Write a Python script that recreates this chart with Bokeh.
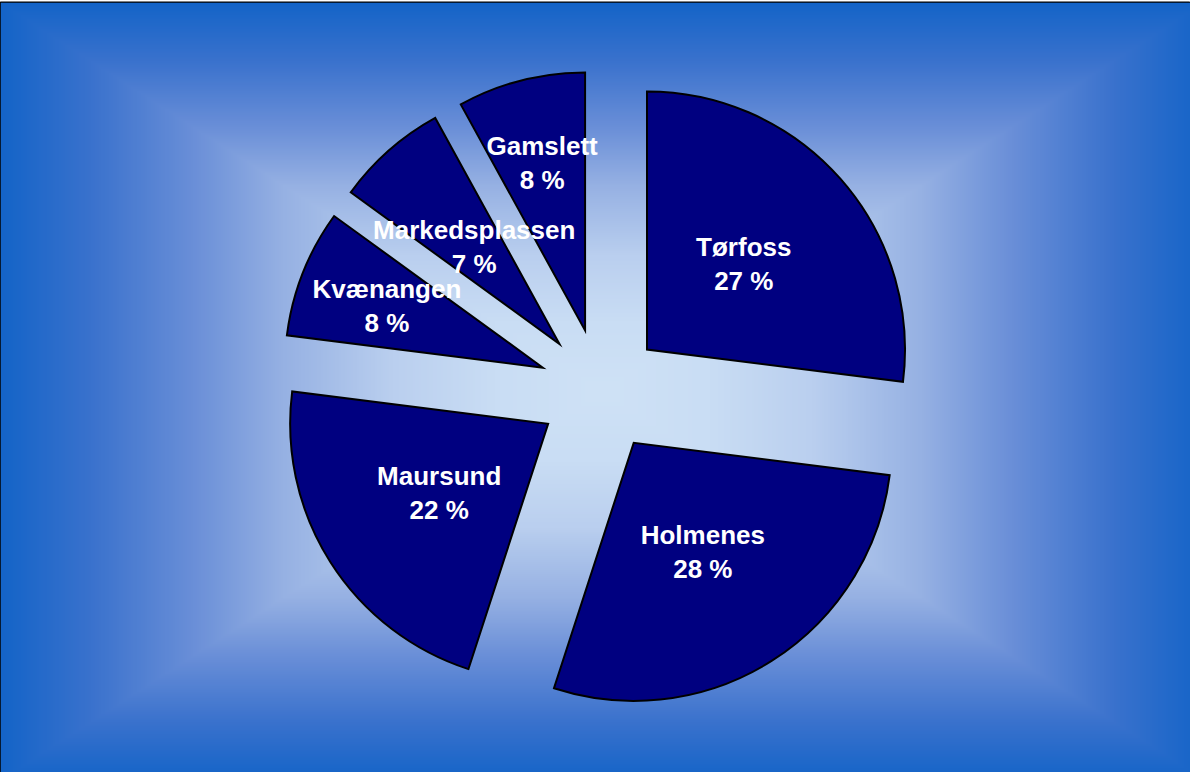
import numpy as np
from bokeh.plotting import figure
from bokeh.models import ColumnDataSource, Range1d
from bokeh.embed import file_html
from bokeh.resources import INLINE
from bokeh.core.properties import value

# ---- data ----
categories = ["Tørfoss", "Holmenes", "Maursund", "Kvænangen", "Markedsplassen", "Gamslett"]
shares = [27, 28, 22, 8, 7, 8]
pct_labels = ["27 %", "28 %", "22 %", "8 %", "7 %", "8 %"]

# ---- layout / style ----
W, H = 1190, 770
PIE_CX, PIE_CY = 600, 382
RADIUS = 258
EXPLODE = 62
label_frac = [0.5, 0.5, 0.5, 0.65, 0.5, 0.67]

p = figure(width=W, height=H + 2, x_range=Range1d(0, W), y_range=Range1d(0, H),
           output_backend="svg", toolbar_location=None,
           x_axis_location=None, y_axis_location=None,
           min_border_left=0, min_border_right=0, min_border_bottom=0, min_border_top=2)
p.grid.visible = False
p.outline_line_color = "black"
p.outline_line_width = 2
p.border_fill_color = "white"

# background: rectangular "from centre" gradient
nx, ny = W // 2, H // 2
xs = (np.arange(nx) + 0.5) * W / nx
ys = (np.arange(ny) + 0.5) * H / ny
X, Y = np.meshgrid(xs, ys)
gcx, gcy = 602, 381
t = np.maximum(np.abs(X - gcx) / 602.0, np.abs(Y - gcy) / 389.0)
st = [0.0, 0.18, 0.35, 0.53, 0.68, 0.85, 1.0]
Rc = np.interp(t, st, [207, 201, 186, 150, 106, 58, 20])
Gc = np.interp(t, st, [226, 221, 207, 177, 143, 114, 100])
Bc = np.interp(t, st, [246, 244, 239, 227, 216, 205, 200])
img = np.empty((ny, nx), dtype=np.uint32)
view = img.view(dtype=np.uint8).reshape((ny, nx, 4))
view[..., 0] = Rc.astype(np.uint8)
view[..., 1] = Gc.astype(np.uint8)
view[..., 2] = Bc.astype(np.uint8)
view[..., 3] = 255
p.image_rgba(image=[img], x=0, y=0, dw=W, dh=H)

# pie geometry
cum = np.concatenate([[0], np.cumsum(shares)])
a_start = np.deg2rad(90 - cum[:-1] * 3.6)   # clockwise from 12 o'clock
a_end = np.deg2rad(90 - cum[1:] * 3.6)
mid = (a_start + a_end) / 2
wx = PIE_CX + EXPLODE * np.cos(mid)
wy = PIE_CY + EXPLODE * np.sin(mid)
lf = np.array(label_frac)
lx = wx + lf * RADIUS * np.cos(mid)
ly = wy + lf * RADIUS * np.sin(mid)

src = ColumnDataSource(dict(x=wx, y=wy, start=a_end, end=a_start,
                            name=categories, pct=pct_labels, lx=lx, ly=ly))

p.wedge(x="x", y="y", radius=RADIUS, start_angle="start", end_angle="end",
        direction="anticlock", source=src, fill_color="#000080",
        line_color="black", line_width=2, line_join="miter")

common = dict(text_align="center", text_baseline="middle",
              text_font=value("Liberation Sans"), text_font_style="bold",
              text_font_size="26px", text_color="white", source=src)
p.text(x="lx", y="ly", text="name", y_offset=-17, **common)
p.text(x="lx", y="ly", text="pct", y_offset=17, **common)

open("out.html", "w").write(file_html(p, INLINE))
